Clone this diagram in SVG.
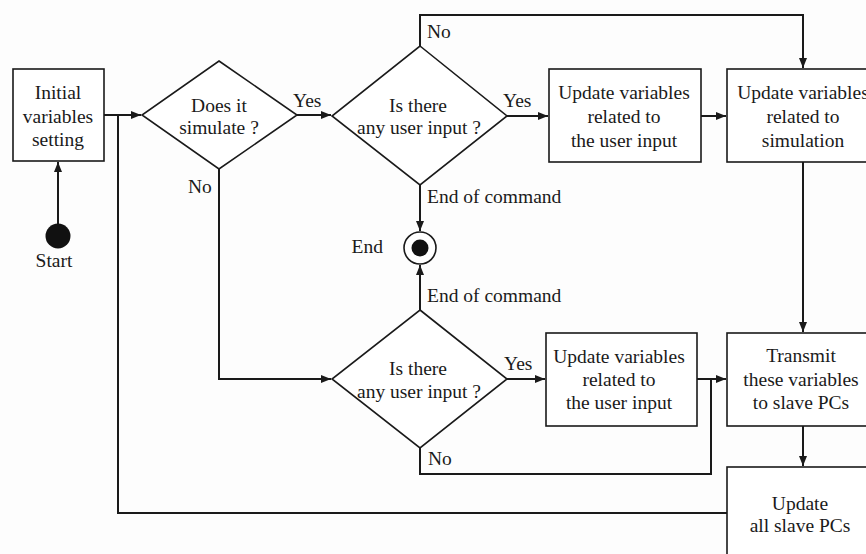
<svg xmlns="http://www.w3.org/2000/svg" width="866" height="554" viewBox="0 0 866 554">
<style>
  .node { fill: #ffffff; stroke: #1a1a1a; stroke-width: 1.6; }
  .conn { fill: none; stroke: #1a1a1a; stroke-width: 2; }
  text { font-family: "Liberation Serif", "Times New Roman", serif; font-size: 19.5px; fill: #1a1a1a; }
  .c { text-anchor: middle; }
</style>
<defs>
  <marker id="arr" markerWidth="10" markerHeight="8" refX="10" refY="4" orient="auto" markerUnits="userSpaceOnUse">
    <path d="M0,0 L10,4 L0,8 Z" fill="#1a1a1a"/>
  </marker>
</defs>
<rect width="866" height="554" fill="#fdfdfd"/>

<g id="connectors">
  <path class="conn" d="M58,224 V162" marker-end="url(#arr)"/>
  <path class="conn" d="M104,115 H141" marker-end="url(#arr)"/>
  <path class="conn" d="M727,513 H118 V115"/>
  <path class="conn" d="M297,115 H331" marker-end="url(#arr)"/>
  <path class="conn" d="M219,169 V379 H331" marker-end="url(#arr)"/>
  <path class="conn" d="M420,46 V15 H803 V68" marker-end="url(#arr)"/>
  <path class="conn" d="M507,116 H548" marker-end="url(#arr)"/>
  <path class="conn" d="M701,116 H726" marker-end="url(#arr)"/>
  <path class="conn" d="M420,185 V231" marker-end="url(#arr)"/>
  <path class="conn" d="M420,310 V265" marker-end="url(#arr)"/>
  <path class="conn" d="M507,379 H545" marker-end="url(#arr)"/>
  <path class="conn" d="M697,379 H726" marker-end="url(#arr)"/>
  <path class="conn" d="M420,448 V474 H711 V379"/>
  <path class="conn" d="M803,162 V332" marker-end="url(#arr)"/>
  <path class="conn" d="M803,426 V466" marker-end="url(#arr)"/>
  <text x="293" y="107">Yes</text>
  <text x="188" y="193">No</text>
  <text x="427" y="38">No</text>
  <text x="503" y="107">Yes</text>
  <text x="427" y="203">End of command</text>
  <text x="427" y="302">End of command</text>
  <text x="504" y="370">Yes</text>
  <text x="428" y="465">No</text>
</g>

<g id="start">
  <circle cx="58" cy="236" r="12.5" fill="#111"/>
  <text class="c" x="54" y="267">Start</text>
</g>

<g id="init">
  <rect class="node" x="13" y="69" width="91" height="92"/>
  <text class="c" x="58" y="99">Initial</text>
  <text class="c" x="58" y="123">variables</text>
  <text class="c" x="58" y="146">setting</text>
</g>

<g id="simulate">
  <polygon class="node" points="219,61 297,115 219,169 142,115"/>
  <text class="c" x="219" y="112">Does it</text>
  <text class="c" x="219" y="134">simulate ?</text>
</g>

<g id="input1">
  <polygon class="node" points="420,46 507,116 420,185 332,116"/>
  <text class="c" x="418" y="112">Is there</text>
  <text class="c" x="419" y="134">any user input ?</text>
</g>

<g id="update-user1">
  <rect class="node" x="549" y="69" width="152" height="93"/>
  <text class="c" x="624" y="99">Update variables</text>
  <text class="c" x="624" y="123">related to</text>
  <text class="c" x="624" y="147">the user input</text>
</g>

<g id="update-sim">
  <rect class="node" x="727" y="69" width="152" height="93"/>
  <text class="c" x="803" y="99">Update variables</text>
  <text class="c" x="803" y="123">related to</text>
  <text class="c" x="803" y="147">simulation</text>
</g>

<g id="end">
  <circle cx="420" cy="248" r="16" fill="#ffffff" stroke="#1a1a1a" stroke-width="1.6"/>
  <circle cx="420" cy="248" r="8.5" fill="#111"/>
  <text x="383" y="253" text-anchor="end">End</text>
</g>

<g id="input2">
  <polygon class="node" points="420,310 507,379 420,448 332,379"/>
  <text class="c" x="418" y="375">Is there</text>
  <text class="c" x="419" y="398">any user input ?</text>
</g>

<g id="update-user2">
  <rect class="node" x="546" y="333" width="151" height="93"/>
  <text class="c" x="619" y="363">Update variables</text>
  <text class="c" x="619" y="386">related to</text>
  <text class="c" x="619" y="409">the user input</text>
</g>

<g id="transmit">
  <rect class="node" x="727" y="333" width="152" height="93"/>
  <text class="c" x="801" y="362">Transmit</text>
  <text class="c" x="801" y="386">these variables</text>
  <text class="c" x="801" y="409">to slave PCs</text>
</g>

<g id="update-slaves">
  <rect class="node" x="727" y="467" width="152" height="100"/>
  <text class="c" x="800" y="510">Update</text>
  <text class="c" x="800" y="532">all slave PCs</text>
</g>
</svg>
